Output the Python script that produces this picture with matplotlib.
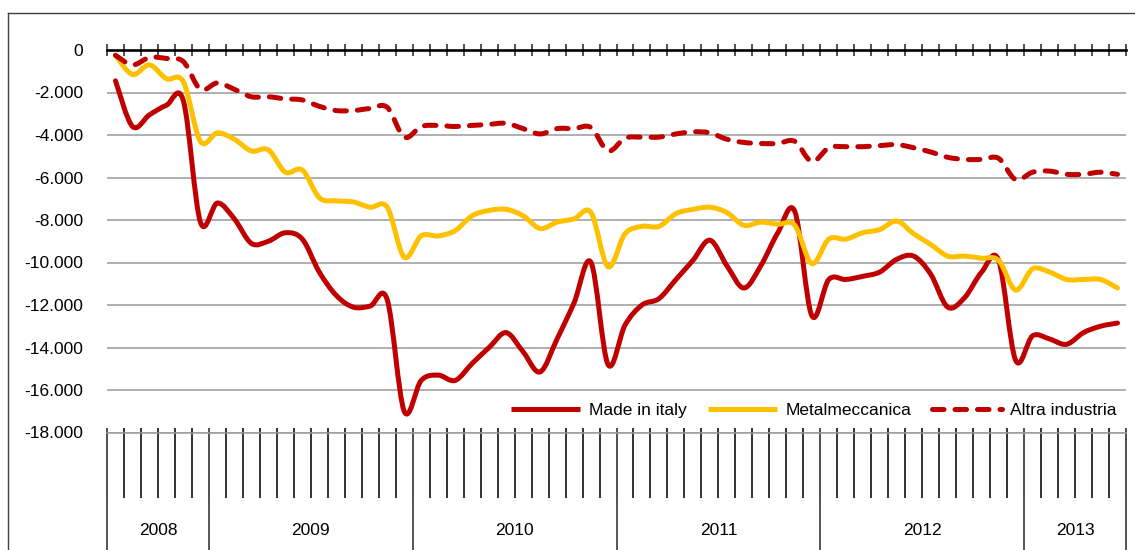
import matplotlib
matplotlib.use("Agg")
import matplotlib.pyplot as plt
import numpy as np
from matplotlib.path import Path
from matplotlib.patches import PathPatch
from matplotlib.lines import Line2D

plt.rcParams["font.family"] = ["Liberation Sans", "DejaVu Sans"]
plt.rcParams["font.size"] = 12.5

# Monthly values, Jul 2008 - Jun 2013
made_in_italy = [
    -1450, -3600, -3050, -2600, -2400, -8100, -7200, -7950, -9100, -9000, -8600,
    -8900, -10450, -11550, -12100, -12050, -11750, -17000, -15550, -15300, -15550, -14750,
    -14000, -13300, -14200, -15150, -13600, -11900, -10000, -14800, -12950, -12000, -11700, -10800,
    -9900, -8950, -10150, -11200, -10150, -8600, -7600, -12500, -10800, -10800, -10650,
    -10450, -9850, -9700, -10550, -12100, -11650, -10450, -9900, -14600, -13450, -13600,
    -13850, -13300, -13000, -12850,
]
metalmeccanica = [
    -250, -1150, -700, -1350, -1500, -4300, -3900, -4200, -4750, -4700, -5750,
    -5650, -6950, -7100, -7150, -7400, -7400, -9750, -8750, -8750, -8500, -7800,
    -7550, -7500, -7800, -8400, -8100, -7950, -7650, -10200, -8650, -8300, -8300, -7700,
    -7500, -7400, -7650, -8250, -8100, -8200, -8250, -10050, -8900, -8900, -8600,
    -8450, -8050, -8650, -9150, -9700, -9700, -9800, -9900, -11300, -10300, -10450,
    -10800, -10800, -10800, -11200,
]
altra_industria = [
    -250, -700, -350, -400, -550, -1850, -1550, -1850, -2200, -2200, -2300,
    -2350, -2650, -2850, -2850, -2750, -2700, -4100, -3600, -3550, -3600, -3550,
    -3500, -3450, -3700, -3950, -3700, -3700, -3650, -4750, -4150, -4100, -4100, -3950,
    -3850, -3900, -4200, -4350, -4400, -4400, -4300, -5250, -4600, -4550, -4550,
    -4500, -4450, -4600, -4800, -5050, -5150, -5150, -5100, -6100, -5750, -5700,
    -5850, -5850, -5750, -5850,
]
years = ["2008", "2009", "2010", "2011", "2012", "2013"]
months_per_year = [6, 12, 12, 12, 12, 6]

RED = "#C00000"
GOLD = "#FFC000"
GRID = "#9a9a9a"


def smooth_path(x, y):
    """Bezier path through the points, like Excel's smoothed line."""
    n = len(x)
    verts = [(x[0], y[0])]
    codes = [Path.MOVETO]
    for i in range(n - 1):
        a = max(i - 1, 0)
        b = min(i + 2, n - 1)
        c1 = (x[i] + (x[i + 1] - x[a]) / 6, y[i] + (y[i + 1] - y[a]) / 6)
        c2 = (x[i + 1] - (x[b] - x[i]) / 6, y[i + 1] - (y[b] - y[i]) / 6)
        verts += [c1, c2, (x[i + 1], y[i + 1])]
        codes += [Path.CURVE4] * 3
    return Path(verts, codes)


fig = plt.figure(figsize=(11.35, 5.5), dpi=100)
ax = fig.add_axes([107 / 1135, 1 - 432.5 / 550, 1019 / 1135, 382.5 / 550])

n = len(made_in_italy)
x = np.arange(n) + 0.5
lw = 3.6
dash = (0, (2.3, 2.2))
series = [
    ("Made in italy", made_in_italy, RED, "-"),
    ("Metalmeccanica", metalmeccanica, GOLD, "-"),
    ("Altra industria", altra_industria, RED, dash),
]
handles = []
for label, vals, color, ls in series:
    patch = PathPatch(smooth_path(x, np.array(vals, dtype=float)), fill=False,
                      edgecolor=color, lw=lw, linestyle=ls, capstyle="round",
                      joinstyle="round", zorder=3)
    ax.add_patch(patch)
    handles.append(Line2D([], [], color=color, lw=lw, linestyle=ls,
                          dash_capstyle="round", solid_capstyle="butt", label=label))

ax.set_xlim(0, n)
ax.set_ylim(-18000, 0)

yt = list(range(-18000, 1, 2000))
ax.set_yticks(yt)
ax.set_yticklabels([f"{v:,}".replace(",", ".") for v in yt])
ax.tick_params(axis="y", length=0, pad=17)
ax.yaxis.grid(True, color=GRID, lw=1.1)
ax.set_axisbelow(True)

# top axis at zero with month ticks
ax.xaxis.set_ticks_position("top")
ax.set_xticks(np.arange(n + 1))
ax.set_xticklabels([])
ax.tick_params(axis="x", direction="inout", length=8.6, width=1.2, color="#333333")
ax.spines["top"].set_color("black")
ax.spines["top"].set_linewidth(1.9)
ax.spines["top"].set_zorder(4)
ax.spines["bottom"].set_color(GRID)
ax.spines["bottom"].set_linewidth(1.1)
for s in ("left", "right"):
    ax.spines[s].set_visible(False)

# bottom two-level category axis
trans = ax.get_xaxis_transform()
ax.vlines(np.arange(n + 1), 0.0105, -0.17, transform=trans, colors="#111111",
          lw=1.2, clip_on=False)
bounds = np.concatenate([[0], np.cumsum(months_per_year)])
ax.vlines(bounds, 0.0105, -0.35, transform=trans, colors="#555555",
          lw=1.4, clip_on=False)
for yr, a, b in zip(years, bounds[:-1], bounds[1:]):
    ax.text((a + b) / 2, -0.2575, yr, transform=trans, ha="center", va="center")

ax.legend(handles=handles, ncol=3, frameon=False, loc="center right",
          bbox_to_anchor=(1010 / 1019, 22 / 382.5), borderpad=0, borderaxespad=0,
          handlelength=4.0, handletextpad=0.5, columnspacing=1.2)

# outer chart frame
fx = 7.5 / 1135
fy = 1 - 12.5 / 550
fig.add_artist(Line2D([fx, fx], [0, fy], color="#404040", lw=1.0))
fig.add_artist(Line2D([fx, 1], [fy, fy], color="#404040", lw=1.0))

fig.savefig("out.png", dpi=100)
